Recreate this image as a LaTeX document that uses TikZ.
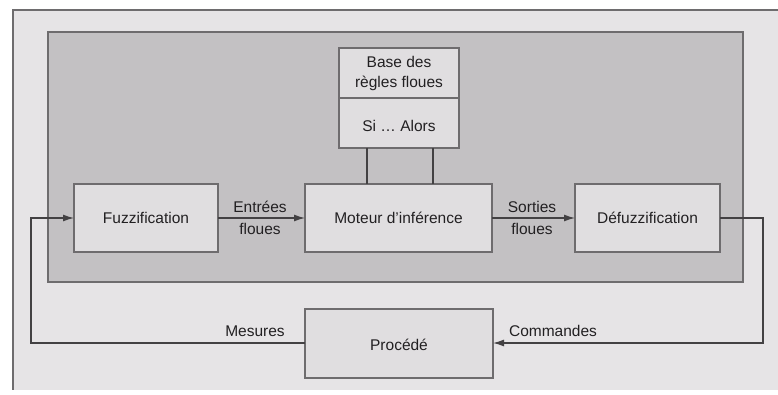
\documentclass[tikz,border=0pt]{standalone}
\usepackage{fontspec}
\setmainfont{Liberation Sans}
\usetikzlibrary{arrows.meta}
\definecolor{outerfill}{HTML}{E6E4E6}
\definecolor{panelfill}{HTML}{C3C1C3}
\definecolor{boxfill}{HTML}{E0DEE0}
\definecolor{edge}{HTML}{6E6C6E}
\definecolor{ink}{HTML}{222022}
\tikzset{
  blk/.style={draw=edge, line width=1.2pt, fill=boxfill, inner sep=0pt},
  lbl/.style={text=ink, font=\fontsize{15.5}{20}\selectfont, align=center, inner sep=0pt},
  wire/.style={draw=ink!85, line width=1.3pt},
  arr/.style={wire, -{Latex[length=11pt,width=7pt]}},
}
\begin{document}
\begin{tikzpicture}[x=1pt,y=-1pt]
\useasboundingbox[fill=white] (0,0) rectangle (778,395);
% outer frame
\fill[outerfill] (13,10) rectangle (778,390);
\draw[edge, line width=1.4pt] (778,10) -- (13,10) -- (13,390);
% inner panel
\draw[draw=edge, line width=1.2pt, fill=panelfill] (48,32) rectangle (743,282);
% blocks
\path[blk] (74,184) rectangle (218,252);
\node[lbl] (fuz) at (146,218) {Fuzzification};
\coordinate (fuzW) at (74,218); \coordinate (fuzE) at (218,218);
\path[blk] (305,184) rectangle (492,252);
\node[lbl] (mot) at (398.5,218) {Moteur d’inférence};
\coordinate (motW) at (305,218); \coordinate (motE) at (492,218);
\path[blk] (575,184) rectangle (720,252);
\node[lbl] (def) at (647.5,218) {Défuzzification};
\coordinate (defW) at (575,218); \coordinate (defE) at (720,218);
\path[blk] (305,309) rectangle (493,378);
\node[lbl] (proc) at (399,345) {Procédé};
\coordinate (procW) at (305,343); \coordinate (procE) at (493,343);
% rule base
\path[blk] (339,48) rectangle (459,148);
\draw[edge, line width=1.2pt] (339,98) -- (459,98);
\node[lbl] (base) at (399,73) {Base des\\règles floues};
\node[lbl] (sialors) at (399,126) {Si … Alors};
\coordinate (b1) at (367,148); \coordinate (b2) at (433,148);
\coordinate (m1) at (367,184); \coordinate (m2) at (433,184);
\draw[wire] (b1) -- (m1);
\draw[wire] (b2) -- (m2);
% arrows
\draw[arr] (fuzE) -- (motW);
\node[lbl] (ent) at (260,218) {Entrées\\[2pt]floues};
\draw[arr] (motE) -- (defW);
\node[lbl] (sor) at (532,218) {Sorties\\[2pt]floues};
\coordinate (rc1) at (763,218); \coordinate (rc2) at (763,343);
\draw[arr] (defE) -- (rc1) -- (rc2) -- (procE);
\node[lbl] (cmd) at (553,331) {Commandes};
\coordinate (lc1) at (31,343); \coordinate (lc2) at (31,218);
\draw[arr] (procW) -- (lc1) -- (lc2) -- (fuzW);
\node[lbl] (mes) at (255,331) {Mesures};
\end{tikzpicture}
\end{document}
